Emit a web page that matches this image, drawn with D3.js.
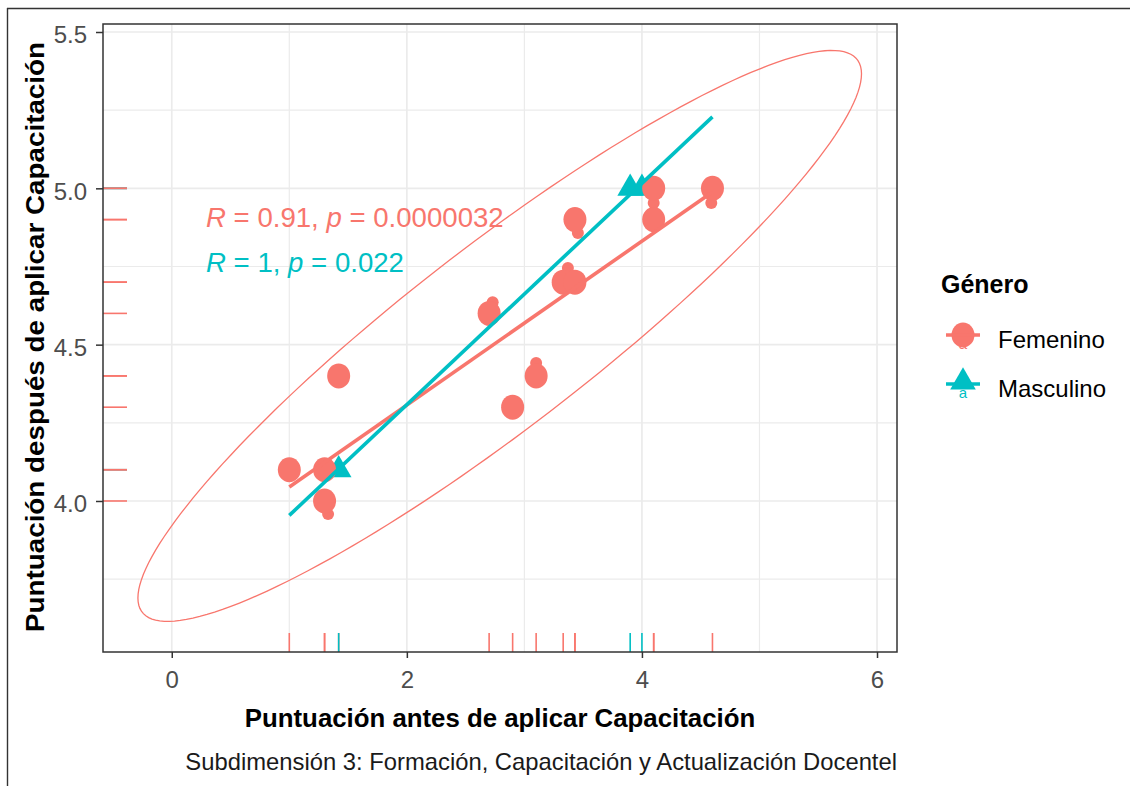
<!DOCTYPE html>
<html>
<head>
<meta charset="utf-8">
<script src="https://cdn.jsdelivr.net/npm/d3@7"></script>
<style>
  body { margin: 0; background: #ffffff; }
  svg text { font-family: "Liberation Sans", Arial, sans-serif; }
</style>
</head>
<body>
<svg id="chart" width="1130" height="786"></svg>
<script>
// Puntuación antes (x) y después (y) de aplicar la capacitación, por género
const femeninoAntes    = [1.0, 1.3, 1.3, 1.42, 2.7, 2.9, 3.1, 3.33, 3.43, 3.43, 4.1, 4.1, 4.6];
const femeninoDespues  = [4.1, 4.1, 4.0, 4.4, 4.6, 4.3, 4.4, 4.7, 4.7, 4.9, 5.0, 4.9, 5.0];
const masculinoAntes   = [1.42, 3.9, 4.0];
const masculinoDespues = [4.1, 5.0, 5.0];

// Pequeñas marcas de etiqueta junto a algunos puntos femeninos
const etiquetasFemX = [1.33, 2.73, 3.1, 3.455, 4.1, 4.59, 3.37];
const etiquetasFemY = [3.958, 4.636, 4.441, 4.857, 4.953, 4.953, 4.745];

// Rectas de regresión [intercepto, pendiente] y tramo de x donde se dibujan
const rectaFemenino  = [3.783, 0.262];
const rectaMasculino = [3.6, 0.354];
const tramoRecta = [1.0, 4.6];

// Elipse de confianza del grupo femenino: centro y matriz de forma escalada
const elipseCentro = [2.79, 4.528];
const elipseForma  = [[9.474, 2.58], [2.58, 0.8336]];

// Correlaciones mostradas
const corR = ["0.91", "1"];
const corP = ["0.0000032", "0.022"];

// Marcas de los ejes
const xTicks = [0, 2, 4, 6];
const xMinor = [1, 3, 5];
const yTicks = [4.0, 4.5, 5.0, 5.5];
const yMinor = [3.75, 4.25, 4.75, 5.25];

const grupos = ["Femenino", "Masculino"];
const colores = { Femenino: "#F8766D", Masculino: "#00BFC4" };

const svg = d3.select("#chart");
const P = { left: 103, right: 897, top: 24, bottom: 652 };

const x = d3.scaleLinear().domain([-0.585, 6.17]).range([P.left, P.right]);
const y = d3.scaleLinear().domain([3.517, 5.5256]).range([P.bottom, P.top]);

// marco exterior de la imagen
svg.append("line").attr("x1", 7.5).attr("x2", 7.5).attr("y1", 8).attr("y2", 786)
  .attr("stroke", "#333").attr("stroke-width", 1.4);
svg.append("line").attr("x1", 7).attr("x2", 1130).attr("y1", 8.5).attr("y2", 8.5)
  .attr("stroke", "#333").attr("stroke-width", 1.4);

// rejilla
const grid = svg.append("g");
grid.selectAll(".vmin").data(xMinor).join("line")
  .attr("x1", d => x(d)).attr("x2", d => x(d)).attr("y1", P.top).attr("y2", P.bottom)
  .attr("stroke", "#EBEBEB").attr("stroke-width", 1.2);
grid.selectAll(".hmin").data(yMinor).join("line")
  .attr("y1", d => y(d)).attr("y2", d => y(d)).attr("x1", P.left).attr("x2", P.right)
  .attr("stroke", "#EBEBEB").attr("stroke-width", 1.2);
grid.selectAll(".vmaj").data(xTicks).join("line")
  .attr("x1", d => x(d)).attr("x2", d => x(d)).attr("y1", P.top).attr("y2", P.bottom)
  .attr("stroke", "#EBEBEB").attr("stroke-width", 1.7);
grid.selectAll(".hmaj").data(yTicks).join("line")
  .attr("y1", d => y(d)).attr("y2", d => y(d)).attr("x1", P.left).attr("x2", P.right)
  .attr("stroke", "#EBEBEB").attr("stroke-width", 1.7);

// elipse (centro + L·(cos t, sin t), con L = Cholesky de la matriz de forma)
const l11 = Math.sqrt(elipseForma[0][0]);
const l21 = elipseForma[1][0] / l11;
const l22 = Math.sqrt(elipseForma[1][1] - l21 * l21);
const elipsePts = d3.range(0, 181).map(i => {
  const t = (i / 180) * 2 * Math.PI;
  return [elipseCentro[0] + l11 * Math.cos(t),
          elipseCentro[1] + l21 * Math.cos(t) + l22 * Math.sin(t)];
});
svg.append("path")
  .attr("d", d3.line().x(d => x(d[0])).y(d => y(d[1]))(elipsePts))
  .attr("fill", "none").attr("stroke", colores.Femenino).attr("stroke-width", 1.3);

// puntos
const masc = masculinoAntes.map((v, i) => [v, masculinoDespues[i]]);
const fem = femeninoAntes.map((v, i) => [v, femeninoDespues[i]]);
const etiq = etiquetasFemX.map((v, i) => [v, etiquetasFemY[i]]);

const tri = d3.symbol().type(d3.symbolTriangle).size(285);
svg.append("g").selectAll("path").data(masc).join("path")
  .attr("d", tri)
  .attr("transform", d => `translate(${x(d[0])},${y(d[1])})`)
  .attr("fill", colores.Masculino);

svg.append("g").selectAll("circle").data(etiq).join("circle")
  .attr("cx", d => x(d[0])).attr("cy", d => y(d[1])).attr("r", 6)
  .attr("fill", colores.Femenino);
svg.append("g").selectAll("ellipse").data(fem).join("ellipse")
  .attr("cx", d => x(d[0])).attr("cy", d => y(d[1])).attr("rx", 11.5).attr("ry", 12.5)
  .attr("fill", colores.Femenino);

// rectas de regresión
function recta(coef, color) {
  const pts = tramoRecta.map(v => [v, coef[0] + coef[1] * v]);
  svg.append("path")
    .attr("d", d3.line().x(d => x(d[0])).y(d => y(d[1]))(pts))
    .attr("fill", "none").attr("stroke", color).attr("stroke-width", 3.6);
}
recta(rectaFemenino, colores.Femenino);
recta(rectaMasculino, colores.Masculino);

// marcas marginales (rug)
const rug = svg.append("g").attr("stroke-width", 1.6);
rug.selectAll(".rxf").data(femeninoAntes).join("line")
  .attr("x1", d => x(d)).attr("x2", d => x(d)).attr("y1", P.bottom).attr("y2", P.bottom - 19)
  .attr("stroke", colores.Femenino);
rug.selectAll(".rxm").data(masculinoAntes).join("line")
  .attr("x1", d => x(d)).attr("x2", d => x(d)).attr("y1", P.bottom).attr("y2", P.bottom - 19)
  .attr("stroke", colores.Masculino);
rug.selectAll(".rym").data(masculinoDespues).join("line")
  .attr("y1", d => y(d)).attr("y2", d => y(d)).attr("x1", P.left).attr("x2", P.left + 24)
  .attr("stroke", colores.Masculino);
rug.selectAll(".ryf").data(femeninoDespues).join("line")
  .attr("y1", d => y(d)).attr("y2", d => y(d)).attr("x1", P.left).attr("x2", P.left + 24)
  .attr("stroke", colores.Femenino);

// textos de correlación
grupos.forEach((g, i) => {
  const t = svg.append("text").attr("x", 206).attr("y", 227 + i * 45)
    .attr("fill", colores[g]).attr("font-size", 27.6);
  t.append("tspan").attr("font-style", "italic").text("R");
  t.append("tspan").text(` = ${corR[i]}, `);
  t.append("tspan").attr("font-style", "italic").text("p");
  t.append("tspan").text(` = ${corP[i]}`);
});

// borde del panel
svg.append("rect").attr("x", P.left).attr("y", P.top)
  .attr("width", P.right - P.left).attr("height", P.bottom - P.top)
  .attr("fill", "none").attr("stroke", "#333333").attr("stroke-width", 1.5);

// ejes
const gx = svg.append("g").attr("transform", `translate(0,${P.bottom})`)
  .call(d3.axisBottom(x).tickValues(xTicks).tickSize(6).tickFormat(d3.format("d")));
gx.attr("font-family", null).attr("font-size", null);
gx.select(".domain").remove();
gx.selectAll(".tick line").attr("stroke", "#333").attr("stroke-width", 1.5);
gx.selectAll(".tick text").attr("fill", "#4D4D4D").attr("font-size", 24)
  .attr("y", 36).attr("dy", 0);

const gy = svg.append("g").attr("transform", `translate(${P.left},0)`)
  .call(d3.axisLeft(y).tickValues(yTicks).tickSize(7).tickFormat(d3.format(".1f")));
gy.attr("font-family", null).attr("font-size", null);
gy.select(".domain").remove();
gy.selectAll(".tick line").attr("stroke", "#333").attr("stroke-width", 1.5);
gy.selectAll(".tick text").attr("fill", "#4D4D4D").attr("font-size", 24)
  .attr("x", -16).attr("dy", "0.45em");

// títulos
svg.append("text").attr("x", (P.left + P.right) / 2).attr("y", 727)
  .attr("text-anchor", "middle").attr("font-weight", "bold").attr("font-size", 25.8)
  .attr("fill", "#000").text("Puntuación antes de aplicar Capacitación");
svg.append("text").attr("transform", `translate(44,${(P.top + P.bottom) / 2 - 1}) rotate(-90)`)
  .attr("text-anchor", "middle").attr("font-weight", "bold").attr("font-size", 26)
  .attr("textLength", 590).attr("lengthAdjust", "spacingAndGlyphs")
  .attr("fill", "#000").text("Puntuación después de aplicar Capacitación");
svg.append("text").attr("x", P.right).attr("y", 770)
  .attr("text-anchor", "end").attr("font-size", 23.8).attr("fill", "#1a1a1a")
  .text("Subdimensión 3: Formación, Capacitación y Actualización Docentel");

// leyenda
const lg = svg.append("g");
lg.append("text").attr("x", 941).attr("y", 293).attr("font-weight", "bold")
  .attr("font-size", 25).attr("fill", "#000").text("Género");
const keyY = [335, 384];
grupos.forEach((g, i) => {
  const cy = keyY[i];
  lg.append("text").attr("x", 963).attr("y", cy + 14).attr("text-anchor", "middle")
    .attr("font-size", 15).attr("fill", colores[g]).text("a");
  if (g === "Femenino") {
    lg.append("ellipse").attr("cx", 963).attr("cy", cy).attr("rx", 11.5).attr("ry", 12.5)
      .attr("fill", colores[g]);
  } else {
    lg.append("path").attr("d", tri).attr("transform", `translate(963,${cy - 2})`)
      .attr("fill", colores[g]);
  }
  lg.append("line").attr("x1", 946).attr("x2", 980).attr("y1", cy).attr("y2", cy)
    .attr("stroke", colores[g]).attr("stroke-width", 3.6);
  lg.append("text").attr("x", 998).attr("y", cy + 13).attr("font-size", 24)
    .attr("fill", "#000").text(g);
});
</script>
</body>
</html>
